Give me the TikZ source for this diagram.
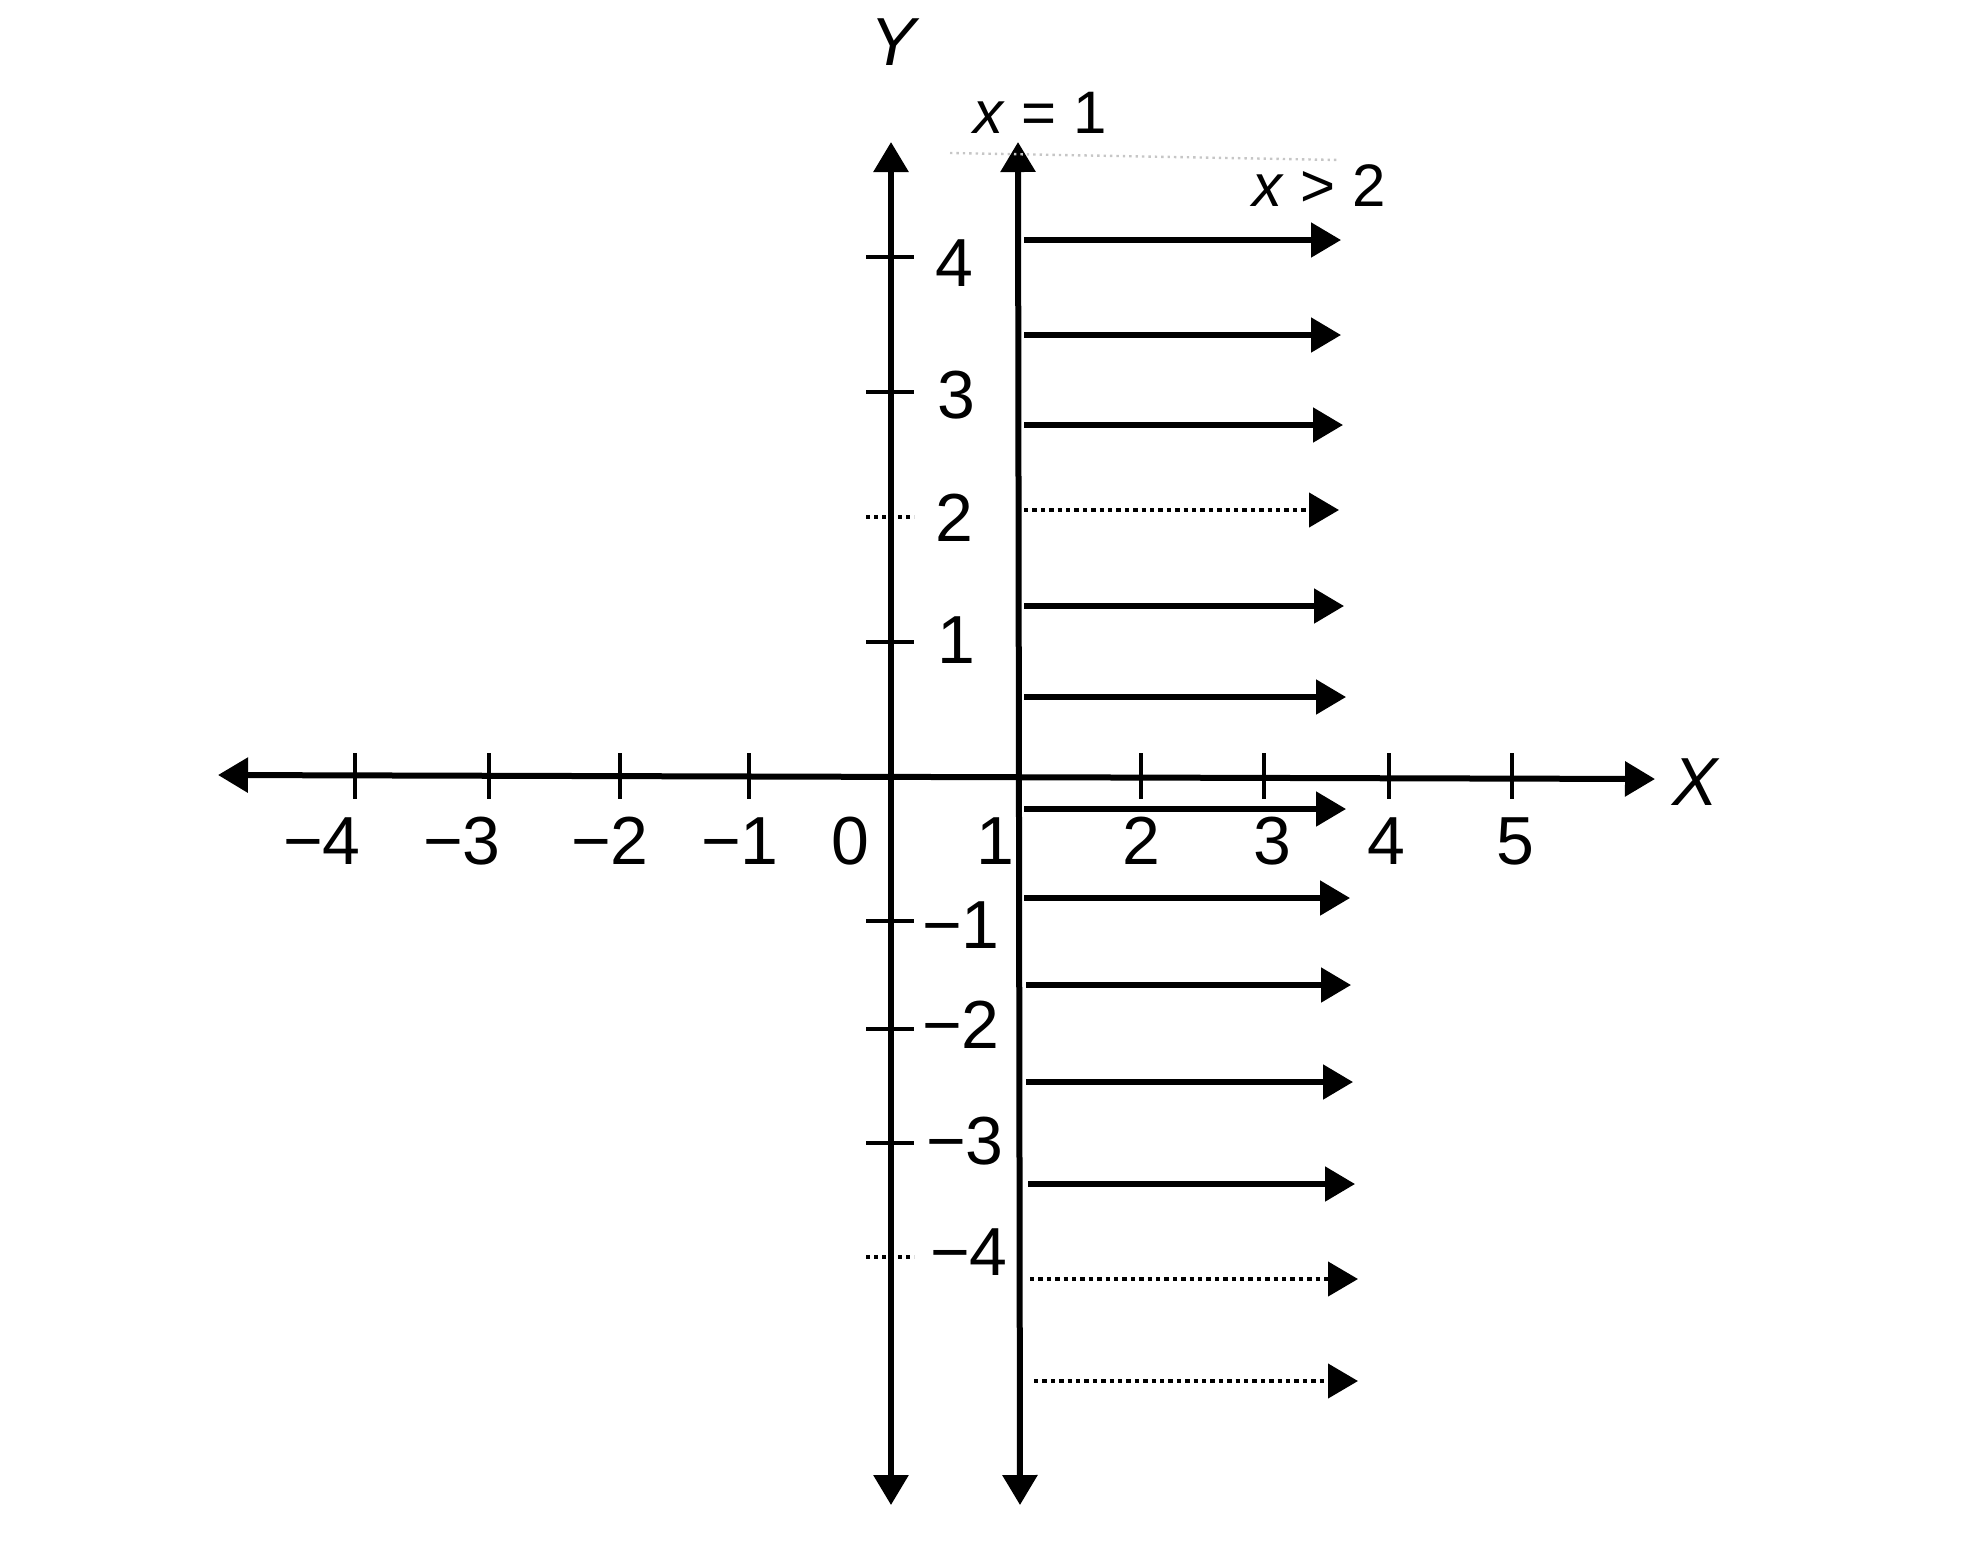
\documentclass[tikz,border=0pt]{standalone}
\usepackage{fontspec}
\setmainfont{Liberation Sans}
\usetikzlibrary{arrows.meta}
\begin{document}
\begin{tikzpicture}[x=0.5pt,y=-0.5pt,
  tip/.tip={Triangle[length=15pt,width=17pt]},
  axisline/.style={line width=3pt,{tip}-{tip}},
  shade/.style={line width=2.6pt,-{tip}},
  shadedot/.style={line width=2.2pt,dotted,-{tip}},
  tick/.style={line width=2.4pt},
  tickdot/.style={line width=2pt,dotted},
  num/.style={inner sep=0pt,font=\fontsize{34}{40}\selectfont},
  axlab/.style={inner sep=0pt,font=\fontsize{34}{40}\selectfont\itshape},
  eqlab/.style={inner sep=0pt,font=\fontsize{30}{36}\selectfont}]
\useasboundingbox (0,0) rectangle (1961,1560);

% axes and the line x = 1
\coordinate (xl) at (218,775);
\coordinate (xr) at (1655,779);
\coordinate (yt) at (891,142);
\coordinate (yb) at (891,1505);
\coordinate (lt) at (1018,142);
\coordinate (lb) at (1020,1505);
\draw[axisline] (xl) -- (xr);
\draw[axisline] (yb) -- (yt);
\draw[axisline] (lb) -- (lt);

% faint dotted trace at the top
\coordinate (fa) at (950,153);
\coordinate (fb) at (1340,160);
\draw[gray!45,line width=1.2pt,dotted] (fa) -- (fb);

% x ticks
\foreach \x in {355,489,620,749,1141,1264,1389,1512}
  \draw[tick] (\x,753) -- (\x,799);

% x tick labels
\foreach \x/\t/\n in {322/{−4}/xm4,462/{−3}/xm3,610/{−2}/xm2,740/{−1}/xm1,850/0/x0,
                      995/1/x1,1141/2/x2,1272/3/x3,1386/4/x4,1515/5/x5}
  \node[num] (\n) at (\x,841) {\t};

% y ticks
\foreach \y in {257,392,642,921,1029,1143}
  \draw[tick] (866,\y) -- (914,\y);
\foreach \y in {517,1257}
  \draw[tickdot] (866,\y) -- (914,\y);

% y tick labels
\node[num] (y4) at (954,263) {4};
\node[num] (y3) at (956,395) {3};
\node[num] (y2) at (954,518) {2};
\node[num] (y1) at (956,640) {1};
\node[num,anchor=east] (ym1) at (1000,925) {−1};
\node[num,anchor=east] (ym2) at (1000,1025) {−2};
\node[num,anchor=east] (ym3) at (1004,1141) {−3};
\node[num,anchor=east] (ym4) at (1008,1252) {−4};

% axis names and equations
\node[axlab] (Ylab) at (893,42) {Y};
\node[axlab] (Xlab) at (1695,782) {X};
\node[eqlab] (eq1) at (1040,113) {\textit{x} = 1};
\node[eqlab] (ineq) at (1319,186) {\textit{x} > 2};

% shading arrows for the region
\foreach \i/\y/\e/\s/\st in {1/240/1341/1024/shade,2/335/1341/1024/shade,3/425/1343/1024/shade,
    4/510/1339/1024/shadedot,5/606/1344/1024/shade,6/697/1346/1024/shade,7/809/1346/1024/shade,
    8/898/1350/1024/shade,9/985/1351/1026/shade,10/1082/1353/1026/shade,11/1184/1355/1028/shade,
    12/1279/1358/1030/shadedot,13/1381/1358/1034/shadedot}{
  \coordinate (s\i) at (\s,\y);
  \coordinate (e\i) at (\e,\y);
  \draw[\st] (s\i) -- (e\i);
}
\end{tikzpicture}
\end{document}
